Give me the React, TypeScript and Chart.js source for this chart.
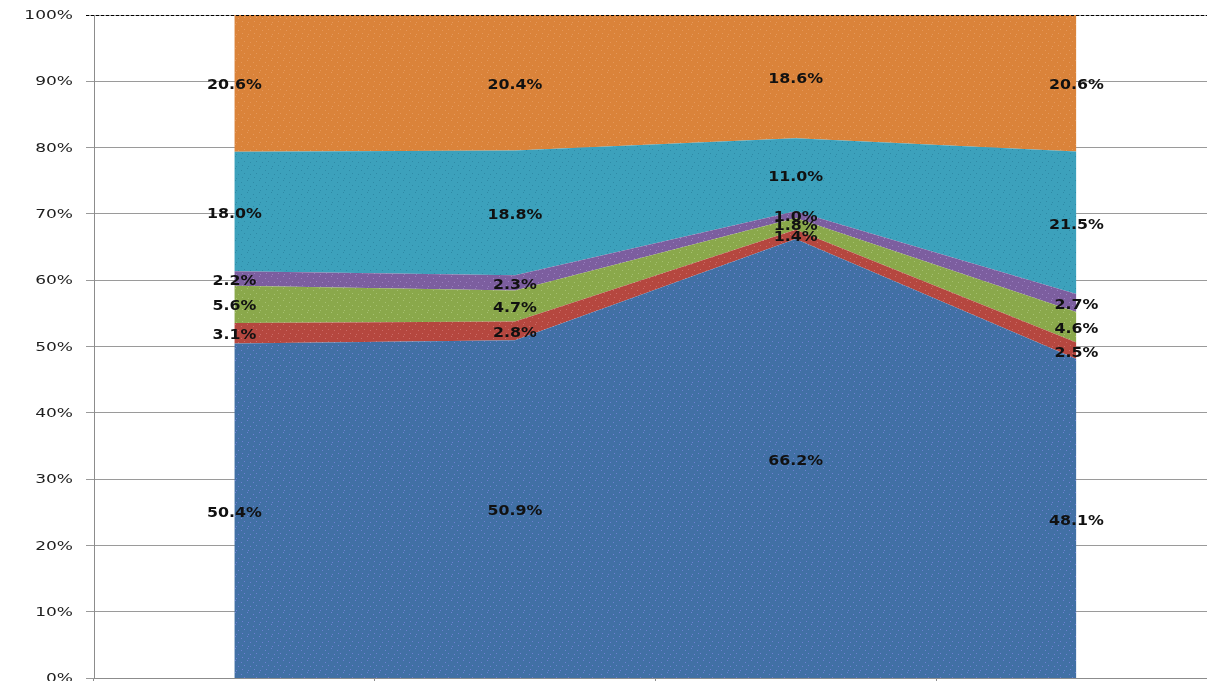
import React, { useEffect, useRef } from 'react';
import { Chart, registerables } from 'chart.js';

Chart.register(...registerables);

const categories = ['1', '2', '3', '4'];
const seriesNames = ['Series 1', 'Series 2', 'Series 3', 'Series 4', 'Series 5', 'Series 6'];
const seriesBlue = [50.4, 50.9, 66.2, 48.1];
const seriesRed = [3.1, 2.8, 1.4, 2.5];
const seriesGreen = [5.6, 4.7, 1.8, 4.6];
const seriesPurple = [2.2, 2.3, 1.0, 2.7];
const seriesTeal = [18.0, 18.8, 11.0, 21.5];
const seriesOrange = [20.6, 20.4, 18.6, 20.6];
const yTicks = [0, 10, 20, 30, 40, 50, 60, 70, 80, 90, 100];

const allSeries = [seriesBlue, seriesRed, seriesGreen, seriesPurple, seriesTeal, seriesOrange];
const baseColors = ['#4170A5', '#B5473F', '#8AA84B', '#7C5E9F', '#3CA1BC', '#DA833A'];
const dotColors = ['#6E80D2', '#CC6A66', '#A6C070', '#9A7EC0', '#2E8AA6', '#E5985A'];

const totals = categories.map((_, i) => allSeries.reduce((s, arr) => s + arr[i], 0));
const normalized = allSeries.map((arr) => arr.map((v, i) => (v / totals[i]) * 100));

function makePattern(base: string, dot: string): CanvasPattern | string {
  const c = document.createElement('canvas');
  c.width = 12;
  c.height = 12;
  const g = c.getContext('2d');
  if (!g) return base;
  g.fillStyle = base;
  g.fillRect(0, 0, 12, 12);
  g.fillStyle = dot;
  const dots = [[1, 2], [7, 0], [4, 5], [10, 6], [2, 9], [8, 10]];
  dots.forEach(([px, py]) => g.fillRect(px, py, 1, 1));
  const p = g.createPattern(c, 'repeat');
  return p || base;
}

const STRETCH_TICK = 1.42;
const STRETCH_LABEL = 1.13;

function stretchedText(ctx: CanvasRenderingContext2D, text: string, x: number, y: number, stretch: number, align: CanvasTextAlign) {
  ctx.save();
  ctx.translate(x, y);
  ctx.scale(stretch, 1);
  ctx.textAlign = align;
  ctx.textBaseline = 'middle';
  ctx.fillText(text, 0, 0);
  ctx.restore();
}

const overlayPlugin = {
  id: 'overlay',
  afterDraw(chart: any) {
    const ctx: CanvasRenderingContext2D = chart.ctx;
    const xs = chart.scales.x;
    const ys = chart.scales.y;
    // dashed 100% line
    ctx.save();
    ctx.strokeStyle = '#000';
    ctx.lineWidth = 1;
    ctx.setLineDash([3, 2]);
    const ty = Math.round(ys.getPixelForValue(100)) + 0.5;
    ctx.beginPath();
    ctx.moveTo(xs.left - 8, ty);
    ctx.lineTo(chart.width, ty);
    ctx.stroke();
    ctx.restore();

    // y tick labels
    ctx.save();
    ctx.fillStyle = '#1e1e1e';
    ctx.font = '12px "DejaVu Sans"';
    yTicks.forEach((t) => {
      stretchedText(ctx, `${t}%`, xs.left - 21, ys.getPixelForValue(t) + 1, STRETCH_TICK, 'right');
    });
    ctx.restore();

    // data labels
    ctx.save();
    ctx.fillStyle = '#111';
    ctx.font = 'bold 14px "DejaVu Sans"';
    categories.forEach((_, i) => {
      let base = 0;
      const px = xs.getPixelForValue(i);
      allSeries.forEach((arr, s) => {
        const h = normalized[s][i];
        const mid = base + h / 2;
        base += h;
        stretchedText(ctx, `${arr[i].toFixed(1)}%`, px, ys.getPixelForValue(mid) + 2.5, STRETCH_LABEL, 'center');
      });
    });
    ctx.restore();
  },
};

export default function App() {
  const ref = useRef<HTMLCanvasElement>(null);
  useEffect(() => {
    if (!ref.current) return;
    const datasets = normalized.map((data, s) => ({
      label: seriesNames[s],
      data,
      backgroundColor: makePattern(baseColors[s], dotColors[s]) as any,
      borderWidth: 0,
      borderColor: baseColors[s],
      pointRadius: 0,
      fill: s === 0 ? 'origin' : '-1',
      tension: 0,
    }));
    const chart = new Chart(ref.current, {
      type: 'line',
      data: { labels: categories, datasets },
      plugins: [overlayPlugin],
      options: {
        animation: false,
        responsive: false,
        devicePixelRatio: 1,
        layout: { padding: { top: 15, right: 23.3, left: 0, bottom: 0 } },
        plugins: { legend: { display: false }, tooltip: { enabled: false } },
        scales: {
          x: {
            type: 'category',
            offset: true,
            ticks: { display: false },
            grid: {
              offset: true,
              drawOnChartArea: false,
              drawTicks: true,
              tickLength: 7,
              tickColor: '#8c8c8c',
              color: '#8c8c8c',
            },
            border: { display: true, color: '#8c8c8c', width: 1 },
            afterFit: (scale: any) => {
              scale.height = 22;
            },
          },
          y: {
            stacked: true,
            min: 0,
            max: 100,
            ticks: { display: false, stepSize: 10 },
            grid: {
              color: '#9a9a9a',
              lineWidth: 1,
              drawTicks: true,
              tickLength: 8,
              tickColor: '#9a9a9a',
            },
            border: { display: true, color: '#8c8c8c', width: 1 },
            afterFit: (scale: any) => {
              scale.width = 94;
            },
          },
        },
      } as any,
    });
    return () => chart.destroy();
  }, []);
  return (
    <div
      style={{
        position: 'fixed',
        left: 0,
        top: 0,
        width: 1207,
        height: 681,
        overflow: 'hidden',
        background: '#fff',
      }}
    >
      <canvas ref={ref} width={1240} height={700} style={{ display: 'block' }} />
    </div>
  );
}
